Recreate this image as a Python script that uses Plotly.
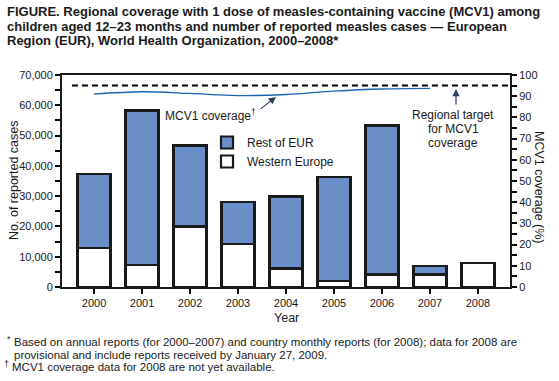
import plotly.graph_objects as go

years = [2000, 2001, 2002, 2003, 2004, 2005, 2006, 2007, 2008]
western_europe = [13000, 7200, 20000, 14200, 6100, 2100, 4100, 4100, 7900]
total_cases = [37400, 58300, 46700, 28100, 29900, 36400, 53300, 6900, 7900]
rest_of_eur = [t - w for t, w in zip(total_cases, western_europe)]
coverage_years = [2000, 2001, 2002, 2003, 2004, 2005, 2006, 2007]
mcv1_coverage = [91.0, 92.1, 91.3, 90.3, 90.8, 92.4, 93.4, 93.7]
target = 95

W, H = 559, 381
L, R, T, B = 62, 49, 75, 94
PW, PH = W - L - R, H - T - B

def px(x):
    return (x - L) / PW

def py(y):
    return 1 - (y - T) / PH

FONT = "Liberation Sans, Arial, Helvetica, sans-serif"
BLUE = "#6a8fc8"

fig = go.Figure()
fig.add_trace(go.Bar(x=years, y=western_europe, name="Western Europe",
                     marker=dict(color="white", line=dict(color="#1a1a1a", width=2.2)),
                     width=0.69))
fig.add_trace(go.Bar(x=years, y=rest_of_eur, name="Rest of EUR",
                     marker=dict(color=BLUE, line=dict(color="#1a1a1a", width=2.2)),
                     width=0.69))
fig.add_trace(go.Scatter(x=coverage_years, y=mcv1_coverage, yaxis="y2", mode="lines",
                         line=dict(color="#1f63b0", width=1.3, shape="spline"),
                         showlegend=False))
fig.add_trace(go.Scatter(x=[years[0] - 0.46, years[-1] + 0.667], y=[target, target], yaxis="y2",
                         mode="lines", line=dict(color="black", width=2, dash="6px,4px"),
                         showlegend=False))

ticks = dict(ticks="outside", ticklen=5, tickwidth=1.5, tickcolor="black")
fig.update_layout(
    width=W, height=H,
    margin=dict(l=L, r=R, t=T, b=B),
    paper_bgcolor="white", plot_bgcolor="white",
    barmode="stack",
    font=dict(family=FONT, size=11, color="#1a1a1a"),
    xaxis=dict(range=[years[0] - 0.667, years[-1] + 0.667], tickvals=years, showline=True,
               linecolor="#1a1a1a", linewidth=2, mirror=True, showgrid=False, zeroline=False,
               tickfont=dict(size=11), automargin=False, **ticks),
    yaxis=dict(range=[0, 70000], dtick=10000, tickformat=",", showline=True,
               linecolor="#1a1a1a", linewidth=2, showgrid=False, zeroline=False,
               tickfont=dict(size=11), automargin=False, **ticks,
               minor=dict(dtick=5000, ticklen=5, tickwidth=1.5, tickcolor="black", ticks="outside")),
    yaxis2=dict(range=[0, 100], dtick=10, overlaying="y", side="right", showline=True,
                linecolor="#1a1a1a", linewidth=2, showgrid=False, zeroline=False,
                tickfont=dict(size=11), automargin=False, **ticks,
                minor=dict(dtick=5, ticklen=5, tickwidth=1.5, tickcolor="black", ticks="outside")),
    legend=dict(x=px(207), y=py(128), xanchor="left", yanchor="top",
                traceorder="reversed", font=dict(size=12), bgcolor="rgba(0,0,0,0)",
                itemwidth=30, tracegroupgap=6),
    showlegend=True,
)

anns = []
title_lines = [
    "FIGURE. Regional coverage with 1 dose of measles-containing vaccine (MCV1) among",
    "children aged 12–23 months and number of reported measles cases — European",
    "Region (EUR), World Health Organization, 2000–2008*",
]
for i, t in enumerate(title_lines):
    anns.append(dict(text="<b>" + t + "</b>", x=px(5), y=py(12 + 14 * i), xref="paper", yref="paper",
                     xanchor="left", yanchor="middle", showarrow=False, font=dict(size=13)))
foot_lines = [
    ("*", "Based on annual reports (for 2000–2007) and country monthly reports (for 2008); data for 2008 are", 12),
    ("", "provisional and include reports received by January 27, 2009.", 12),
    ("†", "MCV1 coverage data for 2008 are not yet available.", 10),
]
for i, (mark, t, x0) in enumerate(foot_lines):
    yc = 342 + 12.5 * i
    anns.append(dict(text=t, x=px(x0), y=py(yc), xref="paper", yref="paper",
                     xanchor="left", yanchor="middle", showarrow=False, font=dict(size=11.5)))
    if mark:
        anns.append(dict(text=mark, x=px(x0 + 1), y=py(yc - 3), xref="paper", yref="paper",
                         xanchor="right", yanchor="middle", showarrow=False, font=dict(size=9)))
anns.append(dict(text="Year", x=px(286), y=py(318), xref="paper", yref="paper",
                 xanchor="center", yanchor="middle", showarrow=False, font=dict(size=12.5)))
anns.append(dict(text="No. of reported cases", x=px(14), y=py(180), xref="paper", yref="paper",
                 xanchor="center", yanchor="middle", textangle=-90, showarrow=False,
                 font=dict(size=12.5)))
anns.append(dict(text="MCV1 coverage (%)", x=px(539), y=py(187), xref="paper", yref="paper",
                 xanchor="center", yanchor="middle", textangle=90, showarrow=False,
                 font=dict(size=12.5)))
anns.append(dict(text="MCV1 coverage<sup>†</sup>", x=px(258), y=py(115), xref="paper", yref="paper",
                 xanchor="right", yanchor="middle", showarrow=False, font=dict(size=12)))
anns.append(dict(x=px(276), y=py(97), ax=259 - 276, ay=110 - 97, xref="paper", yref="paper",
                 axref="pixel", ayref="pixel", showarrow=True, arrowhead=2, arrowsize=1.2,
                 arrowwidth=1.2, text=""))
for i, t in enumerate(["Regional target", "for MCV1", "coverage"]):
    anns.append(dict(text=t, x=px(453), y=py(115 + 14 * i), xref="paper", yref="paper",
                     xanchor="center", yanchor="middle", showarrow=False, font=dict(size=12)))
anns.append(dict(x=px(456), y=py(89), ax=0, ay=17, xref="paper", yref="paper",
                 axref="pixel", ayref="pixel", showarrow=True, arrowhead=2, arrowsize=1.2,
                 arrowwidth=1.2, text=""))
fig.update_layout(annotations=anns)

fig.write_html("out.html", config={"displayModeBar": False},
               post_script="document.body.style.margin='0';")
